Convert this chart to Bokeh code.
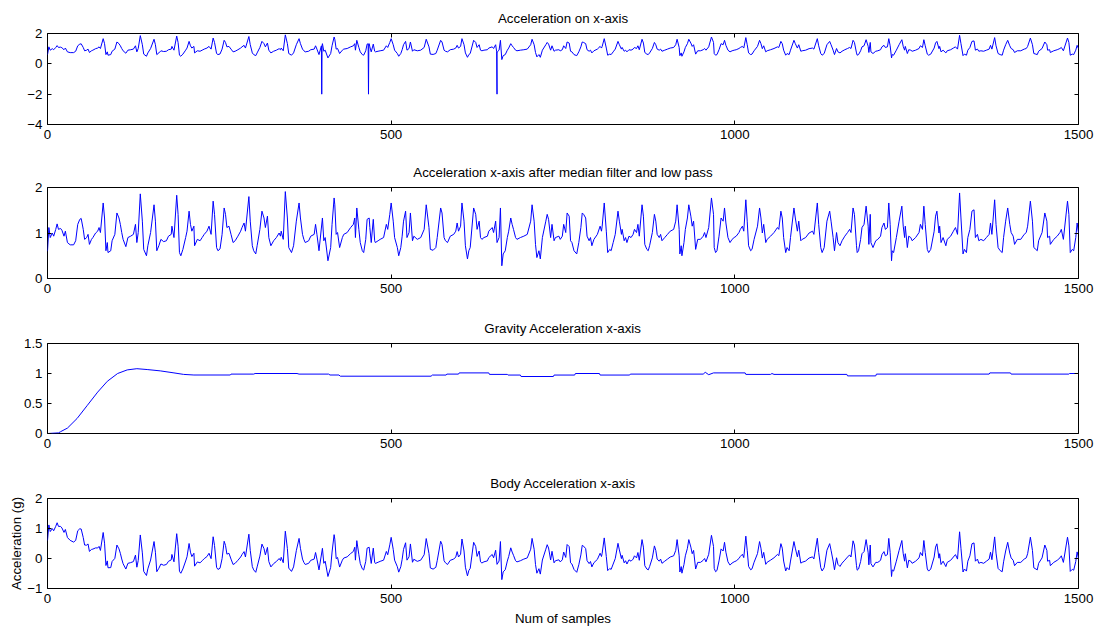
import numpy as np
from bokeh.plotting import figure
from bokeh.layouts import column
from bokeh.models import LinearAxis, FixedTicker, Range1d
from bokeh.embed import file_html
from bokeh.resources import INLINE

# ---------------- data ----------------
# (sample, value) of the filtered signal (panel 2)
filtered_xy = [
    (0, 0.6), (2, 1.12), (4, 0.9), (7, 1.0), (9, 0.93), (12, 1.08), (14, 1.2), (16, 1.08), (19, 1.1),
    (21, 1.06), (24, 0.93), (26, 1.04), (29, 0.79), (33, 0.74), (38, 0.74), (41, 0.83), (44, 1.19),
    (47, 1.3), (49, 1.32), (52, 1.08), (54, 0.86), (57, 0.9), (59, 0.97), (61, 0.75), (64, 0.86),
    (66, 0.9), (70, 1.0), (73, 1.04), (75, 1.12), (77, 1.01), (81, 1.66), (83, 1.33), (85, 0.61),
    (87, 0.79), (88, 0.57), (92, 0.61), (94, 0.83), (98, 0.97), (101, 1.44), (104, 1.33), (106, 1.19),
    (108, 1.01), (110, 0.86), (114, 0.7), (117, 0.9), (121, 0.93), (125, 0.97), (128, 1.19), (130, 0.79),
    (132, 1.01), (135, 1.86), (138, 1.26), (140, 0.64), (144, 0.5), (146, 0.72), (150, 1.01), (155, 1.62),
    (157, 1.26), (159, 0.61), (162, 0.72), (165, 0.86), (169, 0.81), (173, 0.83), (176, 0.93), (180, 0.97),
    (181, 1.15), (184, 0.9), (188, 1.83), (190, 1.41), (192, 0.57), (194, 0.5), (197, 0.64), (201, 0.9),
    (203, 1.04), (206, 1.48), (208, 1.19), (210, 1.04), (213, 1.15), (214, 0.72), (218, 0.86), (222, 0.83),
    (225, 0.9), (228, 0.97), (232, 1.04), (235, 1.15), (238, 0.97), (241, 1.7), (243, 1.41), (246, 0.68),
    (248, 0.61), (251, 0.65), (254, 0.97), (257, 1.55), (259, 1.41), (261, 1.12), (264, 1.15), (267, 0.97),
    (270, 0.79), (273, 0.83), (277, 0.93), (281, 1.04), (283, 1.12), (286, 1.22), (288, 1.04), (293, 1.8),
    (295, 1.26), (298, 0.72), (300, 0.61), (303, 0.54), (305, 0.72), (309, 1.08), (312, 1.48), (315, 1.33),
    (317, 1.12), (320, 1.37), (322, 0.9), (325, 0.72), (329, 0.83), (333, 0.9), (337, 1.0), (339, 0.93),
    (340, 1.04), (343, 0.86), (346, 1.91), (349, 1.33), (351, 0.68), (355, 0.57), (358, 0.72), (362, 1.26),
    (366, 1.66), (368, 1.33), (371, 0.97), (373, 0.86), (375, 0.79), (380, 0.83), (383, 0.93), (388, 0.97),
    (390, 1.19), (392, 0.97), (395, 0.61), (400, 1.33), (402, 0.83), (404, 0.9), (408, 0.39), (412, 0.68),
    (414, 1.19), (417, 1.77), (418, 1.62), (420, 0.97), (422, 1.01), (425, 0.68), (429, 0.9), (431, 0.97),
    (436, 1.01), (441, 1.12), (445, 1.19), (447, 1.33), (448, 0.9), (450, 1.55), (453, 1.08), (455, 0.79),
    (458, 0.61), (460, 0.57), (463, 0.86), (465, 1.3), (468, 1.33), (469, 1.12), (471, 0.79), (474, 1.3),
    (476, 0.83), (477, 0.79), (481, 0.83), (484, 0.86), (489, 0.9), (493, 1.19), (495, 1.08), (498, 1.41),
    (500, 1.66), (503, 1.26), (505, 0.9), (509, 0.68), (511, 0.5), (514, 0.68), (516, 0.93), (518, 1.26),
    (521, 1.48), (523, 0.9), (526, 1.01), (528, 1.44), (531, 0.83), (533, 0.93), (538, 0.86), (543, 0.9),
    (548, 1.08), (551, 1.62), (555, 1.12), (557, 0.64), (561, 0.62), (565, 0.68), (567, 0.9), (572, 1.55),
    (574, 1.44), (577, 0.9), (579, 0.83), (582, 0.79), (586, 0.93), (591, 0.97), (594, 1.04), (596, 1.22),
    (598, 1.04), (601, 1.15), (603, 1.66), (606, 1.26), (608, 0.72), (611, 0.43), (613, 0.61), (615, 0.68),
    (620, 1.55), (623, 1.41), (625, 1.08), (628, 1.26), (630, 0.9), (632, 0.86), (635, 0.9), (640, 0.93),
    (642, 1.04), (647, 1.12), (649, 1.01), (652, 1.26), (654, 0.79), (657, 0.9), (659, 1.55), (661, 0.28),
    (663, 0.54), (666, 0.61), (669, 0.9), (671, 1.04), (674, 1.33), (676, 1.19), (678, 1.08), (681, 0.9),
    (683, 0.86), (688, 0.9), (693, 0.93), (698, 0.97), (703, 1.26), (705, 1.62), (708, 1.26), (710, 0.75),
    (712, 0.46), (715, 0.61), (717, 0.43), (720, 0.9), (725, 1.26), (727, 1.41), (729, 1.3), (732, 0.9),
    (734, 1.19), (737, 0.83), (739, 0.9), (744, 0.93), (746, 0.86), (749, 0.93), (751, 1.19), (754, 1.01),
    (756, 1.44), (759, 1.37), (761, 0.83), (763, 0.79), (766, 0.61), (770, 0.54), (773, 0.79), (776, 1.12),
    (778, 1.44), (780, 1.41), (783, 1.33), (785, 0.93), (788, 0.83), (790, 0.9), (792, 0.72), (795, 0.86),
    (800, 0.97), (804, 1.15), (806, 1.04), (807, 1.15), (810, 1.66), (813, 1.04), (815, 0.57), (818, 0.64),
    (820, 0.61), (823, 0.79), (826, 0.97), (830, 1.48), (832, 1.26), (835, 0.97), (836, 1.08), (839, 0.83),
    (841, 0.9), (843, 0.79), (846, 0.93), (849, 0.9), (852, 0.97), (854, 1.08), (857, 1.01), (859, 1.19),
    (861, 0.93), (865, 1.62), (867, 1.37), (869, 0.75), (872, 0.64), (874, 0.61), (876, 0.72), (880, 1.01),
    (883, 1.41), (885, 1.26), (887, 0.97), (890, 0.9), (892, 0.97), (894, 0.83), (898, 0.9), (902, 0.97),
    (906, 1.04), (911, 1.08), (914, 1.26), (916, 1.62), (919, 1.08), (920, 0.54), (922, 0.72), (923, 0.5),
    (926, 0.79), (928, 1.08), (931, 1.33), (933, 1.62), (936, 1.37), (938, 1.15), (940, 1.26), (943, 0.64),
    (946, 0.86), (950, 0.86), (954, 0.93), (956, 1.01), (958, 0.9), (962, 1.12), (966, 1.77), (969, 1.41),
    (970, 0.68), (972, 0.57), (974, 0.61), (977, 0.93), (980, 1.33), (983, 1.26), (985, 1.55), (987, 1.22),
    (990, 0.9), (993, 0.79), (996, 0.86), (999, 0.9), (1002, 0.93), (1006, 1.01), (1008, 1.08), (1011, 1.15),
    (1013, 1.04), (1016, 1.73), (1018, 1.26), (1020, 0.72), (1023, 0.61), (1025, 0.64), (1028, 0.86),
    (1033, 1.15), (1036, 1.55), (1038, 1.33), (1040, 1.0), (1042, 1.19), (1045, 0.79), (1047, 0.86),
    (1052, 0.93), (1057, 1.01), (1062, 1.12), (1064, 1.08), (1067, 1.48), (1069, 1.33), (1071, 0.9),
    (1074, 0.57), (1076, 0.68), (1079, 0.61), (1081, 0.9), (1086, 1.55), (1088, 1.33), (1091, 1.04),
    (1093, 1.26), (1096, 0.83), (1098, 0.86), (1103, 0.9), (1108, 1.0), (1113, 1.04), (1115, 0.97),
    (1120, 1.66), (1122, 1.19), (1125, 0.68), (1127, 0.57), (1130, 0.68), (1134, 1.26), (1138, 1.48),
    (1140, 1.26), (1143, 0.9), (1145, 0.61), (1148, 1.01), (1150, 0.79), (1153, 0.72), (1156, 0.83),
    (1160, 0.93), (1164, 1.01), (1167, 1.08), (1169, 1.01), (1172, 1.55), (1174, 1.41), (1177, 0.72),
    (1178, 0.57), (1180, 0.61), (1183, 0.86), (1185, 1.12), (1188, 1.19), (1191, 1.59), (1194, 1.15),
    (1195, 0.75), (1197, 1.41), (1198, 0.79), (1201, 0.68), (1205, 0.83), (1208, 0.86), (1212, 0.93),
    (1214, 1.12), (1217, 1.22), (1219, 1.08), (1222, 1.12), (1224, 1.66), (1226, 1.19), (1228, 0.39),
    (1229, 0.61), (1231, 0.57), (1235, 0.9), (1239, 1.26), (1243, 1.59), (1245, 1.15), (1247, 0.9),
    (1248, 1.15), (1251, 0.68), (1253, 0.93), (1256, 0.9), (1258, 0.83), (1263, 0.9), (1268, 1.01),
    (1270, 1.19), (1273, 1.08), (1275, 1.59), (1277, 1.19), (1280, 0.64), (1282, 0.57), (1285, 0.64),
    (1290, 1.04), (1292, 1.37), (1294, 1.48), (1297, 1.0), (1298, 1.15), (1300, 0.79), (1303, 0.9),
    (1307, 0.72), (1309, 0.86), (1314, 0.93), (1318, 1.04), (1321, 1.12), (1324, 0.97), (1327, 1.88),
    (1329, 1.33), (1332, 0.54), (1334, 0.64), (1337, 0.57), (1339, 0.9), (1342, 1.08), (1345, 1.48),
    (1348, 1.51), (1350, 0.9), (1353, 0.97), (1355, 0.83), (1358, 0.86), (1362, 0.83), (1366, 0.9),
    (1370, 0.97), (1372, 1.22), (1374, 0.97), (1378, 1.73), (1380, 1.19), (1383, 0.68), (1386, 0.61),
    (1389, 0.57), (1391, 0.9), (1394, 1.26), (1397, 1.55), (1400, 1.19), (1402, 1.01), (1405, 0.93),
    (1407, 0.75), (1411, 0.86), (1416, 0.86), (1421, 0.97), (1424, 1.01), (1426, 1.15), (1430, 1.7),
    (1433, 1.26), (1435, 0.68), (1438, 0.64), (1440, 0.61), (1442, 0.83), (1447, 1.01), (1451, 1.44),
    (1454, 1.26), (1455, 0.9), (1458, 0.93), (1459, 0.75), (1464, 0.86), (1469, 0.93), (1473, 1.01),
    (1475, 1.08), (1478, 0.86), (1484, 1.7), (1486, 1.41), (1488, 0.57), (1491, 0.64), (1493, 0.61),
    (1496, 0.9), (1498, 1.22), (1500, 1.0),
]
filtered_x = [p[0] for p in filtered_xy]
filtered_y = [p[1] for p in filtered_xy]

# spikes that appear only in the raw signal (panel 1)
raw_spike_samples = [399, 467, 654]
raw_spike_values = [-2.0, -2.0, -2.0]

# gravity component (panel 3)
gravity_x = [0, 16, 19, 29, 43, 58, 73, 87, 102, 116, 130, 145, 164, 184, 198, 213, 266, 267, 300, 302,
             363, 366, 409, 411, 424, 426, 558, 560, 580, 581, 598, 599, 642, 643, 669, 670, 688, 689,
             736, 737, 767, 768, 803, 804, 847, 848, 954, 957, 962, 969, 1015, 1016, 1052, 1054, 1057,
             1163, 1164, 1205, 1206, 1370, 1371, 1401, 1402, 1486, 1487, 1500]
gravity_y = [0, 0.01, 0.03, 0.09, 0.25, 0.47, 0.69, 0.87, 1.0, 1.06, 1.08, 1.066, 1.044, 1.01, 0.985,
             0.975, 0.975, 0.99, 0.99, 1.0, 1.0, 0.99, 0.99, 0.975, 0.975, 0.955, 0.955, 0.974, 0.974,
             0.99, 0.99, 1.01, 1.01, 0.985, 0.985, 0.974, 0.974, 0.95, 0.95, 0.974, 0.974, 1.0, 1.0,
             0.974, 0.974, 0.99, 0.99, 1.02, 0.98, 1.01, 1.01, 0.985, 0.985, 1.0, 0.985, 0.985, 0.96,
             0.96, 0.99, 0.99, 1.01, 1.01, 0.99, 0.99, 1.0, 1.0]

x_ticks = [0, 500, 1000, 1500]

# raw = filtered readings with the spikes put in
raw_pts = list(zip(filtered_x, filtered_y))
for s, v in zip(raw_spike_samples, raw_spike_values):
    base = float(np.interp(s, filtered_x, filtered_y))
    raw_pts += [(s - 0.5, base), (s, v), (s + 0.5, base)]
raw_pts.sort()
raw_x = [p[0] for p in raw_pts]
raw_y = [p[1] for p in raw_pts]

# body = filtered - gravity
body_x = filtered_x
body_y = list(np.array(filtered_y) - np.interp(filtered_x, gravity_x, gravity_y))

FONT = "Liberation Sans"
FS = "13.3px"
BLUE = "#0000FF"


def style_axis(ax, ticks, show_labels=True):
    ax.ticker = FixedTicker(ticks=ticks)
    ax.major_tick_in = 4
    ax.major_tick_out = 0
    ax.major_tick_line_color = "black"
    ax.minor_tick_line_color = None
    ax.axis_line_color = None
    ax.major_label_text_font = FONT
    if show_labels:
        ax.major_label_text_color = "black"
        ax.major_label_text_font_size = FS
        ax.major_label_standoff = 5
    else:
        ax.major_label_text_color = None
        ax.major_label_text_font_size = "1px"
        ax.major_label_standoff = 0


def panel(title, yr, yticks, height, bottom, xs, ys, xlabel=None, ylabel=None):
    p = figure(width=1098, height=height, output_backend="svg", toolbar_location=None,
               x_range=Range1d(0, 1500), y_range=Range1d(*yr), title=title,
               min_border_left=47, min_border_right=20, min_border_top=32,
               min_border_bottom=bottom)
    p.title.text_font = FONT
    p.title.text_font_size = FS
    p.title.text_font_style = "normal"
    p.title.text_color = "black"
    p.title.align = "center"
    p.title.standoff = 16
    p.grid.visible = False
    p.outline_line_color = "black"
    p.outline_line_width = 1
    p.outline_line_alpha = 1
    p.background_fill_color = "white"
    p.border_fill_color = "white"
    xb = p.below[0]
    yl = p.left[0]
    style_axis(xb, x_ticks)
    style_axis(yl, yticks)
    top = LinearAxis()
    style_axis(top, x_ticks, show_labels=False)
    p.add_layout(top, "above")
    right = LinearAxis()
    style_axis(right, yticks, show_labels=False)
    p.add_layout(right, "right")
    if xlabel:
        xb.axis_label = xlabel
        xb.axis_label_text_font = FONT
        xb.axis_label_text_font_size = FS
        xb.axis_label_text_font_style = "normal"
        xb.axis_label_text_color = "black"
        xb.axis_label_standoff = 5
    if ylabel:
        yl.axis_label = ylabel
        yl.axis_label_text_font = FONT
        yl.axis_label_text_font_size = FS
        yl.axis_label_text_font_style = "normal"
        yl.axis_label_text_color = "black"
        yl.axis_label_standoff = 0
    p.line(xs, ys, line_color=BLUE, line_width=1)
    return p


p1 = panel("Acceleration on x-axis", (-4, 2), [-4, -2, 0, 2], 154, 30, raw_x, raw_y)
p2 = panel("Acceleration x-axis after median filter and low pass", (0, 2), [0, 1, 2], 156, 32,
           filtered_x, filtered_y)
p3 = panel("Gravity Acceleration x-axis", (0, 1.5), [0, 0.5, 1, 1.5], 155, 32, gravity_x, gravity_y)
p4 = panel("Body Acceleration x-axis", (-1, 2), [-1, 0, 1, 2], 165, 42, body_x, body_y,
           xlabel="Num of samples", ylabel="Acceleration (g)")

layout = column(p1, p2, p3, p4, spacing=0)
open("out.html", "w").write(file_html(layout, INLINE))
